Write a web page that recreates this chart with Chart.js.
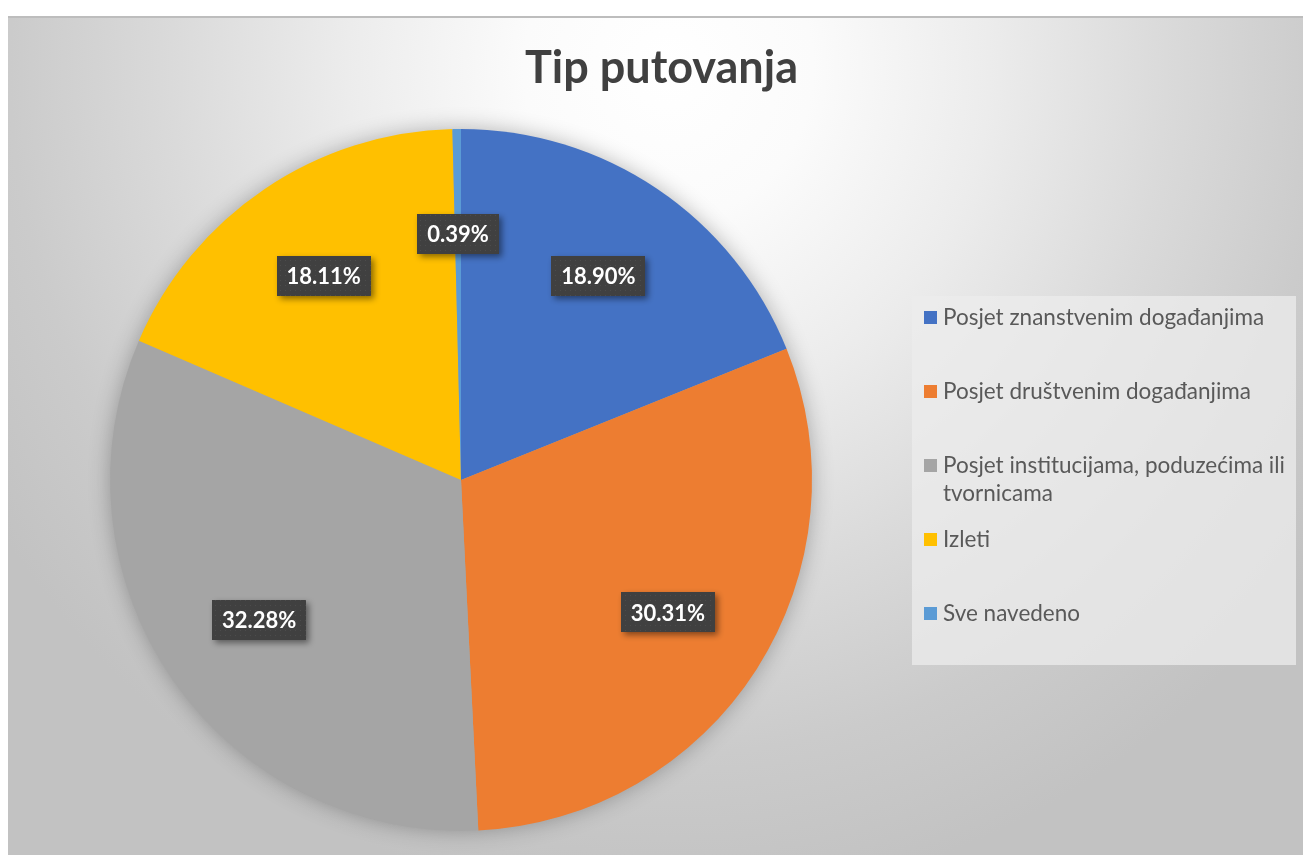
<!DOCTYPE html>
<html><head><meta charset="utf-8">
<script src="https://cdn.jsdelivr.net/npm/chart.js@4.4.1/dist/chart.umd.min.js"></script>
<style>
html,body{margin:0;padding:0;background:#fff;width:1303px;height:855px;overflow:hidden}
#frame{position:absolute;left:8px;top:16px;width:1295px;height:839px;box-sizing:border-box;
  border-top:2px solid #bdbdbd;
  background:radial-gradient(ellipse 62% 100% at 51% 6%, #ffffff 0%, #fbfbfb 18%, #ececec 40%, #dadada 62%, #cbcbcb 82%, #c2c2c2 100%);}
#c{position:absolute;left:0;top:0}
</style></head>
<body>
<div id="frame"><canvas id="c" width="1295" height="837"></canvas></div>
<script>
const chartTitle = 'Tip putovanja';
const categories = [
  'Posjet znanstvenim događanjima',
  'Posjet društvenim događanjima',
  'Posjet institucijama, poduzećima ili tvornicama',
  'Izleti',
  'Sve navedeno'
];
const shares = [18.90, 30.31, 32.28, 18.11, 0.39];
const sliceColors = ['#4472C4', '#ED7D31', '#A5A5A5', '#FFC000', '#5B9BD5'];

// dotted dark pattern for label boxes
function makePattern(ctx) {
  const p = document.createElement('canvas');
  p.width = 5; p.height = 5;
  const pc = p.getContext('2d');
  pc.fillStyle = '#404040'; pc.fillRect(0, 0, 5, 5);
  pc.fillStyle = '#4c4c4c'; pc.fillRect(2, 2, 1, 1);
  return ctx.createPattern(p, 'repeat');
}

const pieShadow = {
  id: 'pieShadow',
  beforeDatasetsDraw(chart) {
    const arc = chart.getDatasetMeta(0).data[0];
    if (!arc) return;
    const {x, y, outerRadius} = arc.getProps(['x', 'y', 'outerRadius'], true);
    const ctx = chart.ctx;
    ctx.save();
    ctx.shadowColor = 'rgba(0,0,0,0.30)';
    ctx.shadowBlur = 22;
    ctx.fillStyle = '#a5a5a5';
    ctx.beginPath(); ctx.arc(x, y, outerRadius - 1, 0, Math.PI * 2); ctx.fill();
    ctx.restore();
  }
};

const sliceLabels = {
  id: 'sliceLabels',
  afterDatasetsDraw(chart) {
    const ctx = chart.ctx;
    const pattern = makePattern(ctx);
    const meta = chart.getDatasetMeta(0);
    const vals = chart.data.datasets[0].data;
    ctx.save();
    ctx.font = 'bold 22px Lato';
    meta.data.forEach((arc, i) => {
      const {x, y, startAngle, endAngle, outerRadius} =
        arc.getProps(['x', 'y', 'startAngle', 'endAngle', 'outerRadius'], true);
      const mid = (startAngle + endAngle) / 2;
      const r = outerRadius * 0.70;
      const cx = x + Math.cos(mid) * r, cy = y + Math.sin(mid) * r;
      const text = vals[i].toFixed(2) + '%';
      const w = Math.round(ctx.measureText(text).width + 20), h = 40;
      ctx.save();
      ctx.shadowColor = 'rgba(0,0,0,0.45)';
      ctx.shadowBlur = 6; ctx.shadowOffsetX = 3; ctx.shadowOffsetY = 3;
      ctx.fillStyle = pattern;
      ctx.fillRect(Math.round(cx - w / 2), Math.round(cy - h / 2), w, h);
      ctx.restore();
      ctx.fillStyle = '#ffffff';
      ctx.textAlign = 'center'; ctx.textBaseline = 'middle';
      ctx.fillText(text, cx, cy + 1);
    });
    ctx.restore();
  }
};

const titleDraw = {
  id: 'titleDraw',
  afterDraw(chart) {
    const ctx = chart.ctx;
    ctx.save();
    ctx.font = 'bold 45px Lato';
    ctx.fillStyle = '#404040';
    ctx.textAlign = 'center'; ctx.textBaseline = 'alphabetic';
    ctx.fillText(chartTitle, 653.5, 65);
    ctx.restore();
  }
};

function wrapText(ctx, text, maxW) {
  const words = text.split(' ');
  const lines = []; let cur = '';
  for (const w of words) {
    const t = cur ? cur + ' ' + w : w;
    if (ctx.measureText(t).width > maxW && cur) { lines.push(cur); cur = w; }
    else cur = t;
  }
  if (cur) lines.push(cur);
  return lines;
}

const legendDraw = {
  id: 'legendDraw',
  afterDraw(chart) {
    const ctx = chart.ctx;
    const bx = 904, by = 278, bw = 384, bh = 369;
    ctx.save();
    ctx.fillStyle = 'rgba(236,236,236,0.75)';
    ctx.fillRect(bx, by, bw, bh);
    ctx.font = '22.5px Lato';
    ctx.textAlign = 'left'; ctx.textBaseline = 'alphabetic';
    let base = by + 29;
    const labels = chart.data.labels;
    const cols = chart.data.datasets[0].backgroundColor;
    labels.forEach((lab, i) => {
      ctx.fillStyle = cols[i];
      ctx.fillRect(bx + 12, base - 14, 13, 13);
      ctx.fillStyle = '#595959';
      const lines = wrapText(ctx, lab, 352);
      lines.forEach((ln, k) => ctx.fillText(ln, bx + 31, base + k * 28));
      base += 74;
    });
    ctx.restore();
  }
};

new Chart(document.getElementById('c'), {
  type: 'pie',
  data: {
    labels: categories,
    datasets: [{ data: shares, backgroundColor: sliceColors, borderWidth: 0 }]
  },
  options: {
    responsive: false,
    devicePixelRatio: 1,
    animation: false,
    layout: { padding: { left: 102, right: 491, top: 111, bottom: 24 } },
    plugins: { legend: { display: false }, tooltip: { enabled: false }, title: { display: false } }
  },
  plugins: [pieShadow, sliceLabels, titleDraw, legendDraw]
});
</script>
</body></html>
